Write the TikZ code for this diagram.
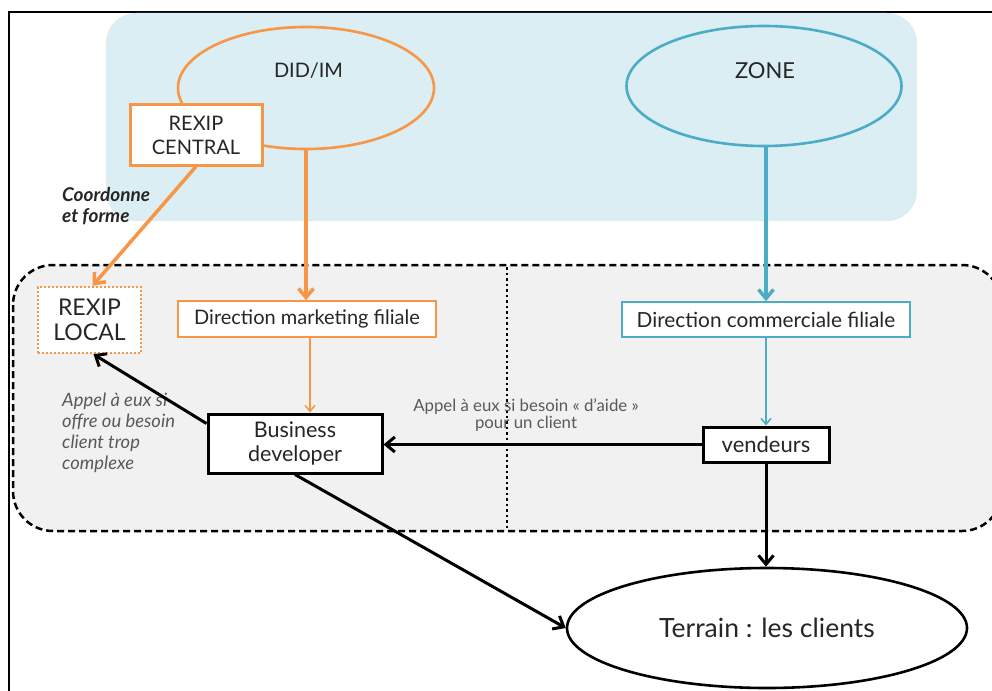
\documentclass[tikz,border=0pt]{standalone}
\usepackage{fontspec}
\setmainfont{Lato}
\usetikzlibrary{shapes.geometric,arrows.meta}
\definecolor{orng}{HTML}{F79646}
\definecolor{blu}{HTML}{4BACC6}
\definecolor{lblue}{HTML}{DBEEF4}
\definecolor{lgray}{HTML}{F1F1F1}
\definecolor{txt}{HTML}{262626}
\definecolor{note}{HTML}{595959}
\tikzset{
  bigtip/.style={-{Straight Barb[length=9pt,width=15pt]}},
  smalltip/.style={-{Straight Barb[length=6pt,width=10pt]}},
  boxtext/.style={font=\fontsize{20}{24}\selectfont, text=txt, align=center, inner sep=0pt},
  ell/.style={ellipse, line width=2.6pt, inner sep=0pt},
  notetext/.style={text=note, inner sep=0pt},
}
\begin{document}
\begin{tikzpicture}[x=1pt,y=-1pt]
\useasboundingbox (0,0) rectangle (992,690);
\clip (0,0) rectangle (992,690);
\fill[white] (0,0) rectangle (992,690);
% frame
\draw[line width=2.4pt] (9,700) -- (9,12) -- (1000,12);
% light blue area
\fill[lblue, rounded corners=30pt] (106,13) rectangle (917,221);
% grey dashed area
\draw[line width=2.5pt, dash pattern=on 7pt off 4pt, fill=lgray, rounded corners=40pt] (13,265) rectangle (1002,531);
\draw[line width=2.6pt, dash pattern=on 2.5pt off 3pt] (507,267) -- (507,529);

% top ellipses
\node[ell, draw=orng, minimum width=256pt, minimum height=122pt] (did) at (306,88) {};
\node[boxtext, font=\fontsize{20}{24}\selectfont] (didt) at (308.5,71) {DID/IM};
\node[ell, draw=blu, minimum width=275pt, minimum height=120pt] (zone) at (764,86) {};
\node[boxtext, font=\fontsize{22}{26}\selectfont] (zonet) at (765,71) {ZONE};

% boxes
\node[boxtext, draw=orng, line width=3pt, fill=white, minimum width=132pt, minimum height=60pt] (rc) at (196,135) {REXIP\\CENTRAL};
\node[boxtext, font=\fontsize{23}{25}\selectfont, draw=orng, line width=2.5pt, dash pattern=on 2pt off 2pt, fill=white, minimum width=103pt, minimum height=66pt] (rl) at (89.5,320) {REXIP\\LOCAL};
\node[boxtext, draw=orng, line width=1.5pt, fill=white, minimum width=258pt, minimum height=36pt] (dmf) at (307,319) {Direction marketing filiale};
\node[boxtext, font=\fontsize{20.8}{24}\selectfont, draw=blu, line width=1.5pt, fill=white, minimum width=288pt, minimum height=35pt] (dcf) at (766,319.5) {Direction commerciale filiale};
\node[boxtext, font=\fontsize{21.5}{24}\selectfont, draw, line width=3pt, fill=white, minimum width=174pt, minimum height=59pt] (bd) at (295,443.5) {Business\\developer};
\node[boxtext, font=\fontsize{22}{24}\selectfont, draw, line width=3pt, fill=white, minimum width=126pt, minimum height=35pt] (vend) at (766,444.5) {vendeurs};
\node[ell, draw=black, minimum width=400pt, minimum height=120pt, boxtext, font=\fontsize{26.5}{30}\selectfont] (terr) at (767,628) {Terrain : les clients};

% labels
\node[notetext, font=\fontsize{19}{21}\selectfont\bfseries\itshape, text=txt, anchor=north west, align=left] (coord) at (62,187) {Coordonne\\et forme};
\node[notetext, font=\itshape\fontsize{18.4}{21}\selectfont, anchor=north west, align=left] (appel1) at (62,393) {Appel à eux si\\offre ou besoin\\client trop\\complexe};
\node[notetext, align=center, font=\fontsize{16.8}{16.5}\selectfont] (appel2) at (526,415) {Appel à eux si besoin « d’aide »\\pour un client};

% connectors
\draw[orng, line width=3.5pt, bigtip] (rc.south) -- ([xshift=3pt]rl.north);
\draw[orng, line width=3.5pt, bigtip] (did.south) -- (did.south |- dmf.north);
\draw[orng, line width=1.5pt, smalltip] ([xshift=3pt]dmf.south) -- ([xshift=3pt]dmf.south |- bd.north);
\draw[blu, line width=3.5pt, bigtip] ([xshift=2pt]zone.south) -- ([xshift=2pt]zone.south |- dcf.north);
\draw[blu, line width=1.5pt, smalltip] (dcf.south) -- (dcf.south |- vend.north);
\draw[line width=3pt, bigtip] ([yshift=-11pt]bd.north west) -- ([xshift=4pt]rl.south);
\draw[line width=3pt, bigtip] (vend.west) -- (vend.west -| bd.east);
\draw[line width=3pt, bigtip] (vend.south) -- (vend.south |- terr.north);
\draw[line width=3pt, bigtip] (bd.south) -- (terr.west);
\end{tikzpicture}
\end{document}
